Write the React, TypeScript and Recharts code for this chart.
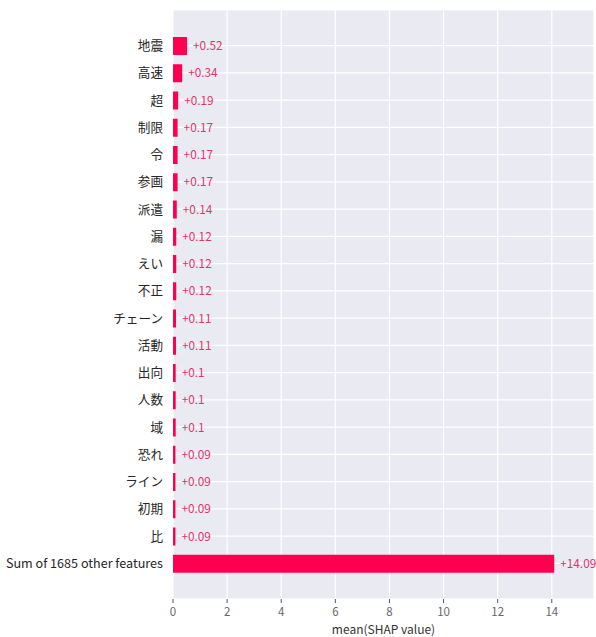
import React from "react";
import { BarChart, Bar, XAxis, YAxis, CartesianGrid, LabelList } from "recharts";

const features = [
  "地震", "高速", "超", "制限", "令", "参画", "派遣", "漏", "えい", "不正",
  "チェーン", "活動", "出向", "人数", "域", "恐れ", "ライン", "初期", "比",
  "Sum of 1685 other features",
];
const shapValues = [
  0.52, 0.34, 0.19, 0.17, 0.17, 0.17, 0.14, 0.12, 0.12, 0.12,
  0.11, 0.11, 0.1, 0.1, 0.1, 0.09, 0.09, 0.09, 0.09, 14.09,
];
const xTicks = [0, 2, 4, 6, 8, 10, 12, 14];

const data = features.map((f, i) => ({ name: f, value: shapValues[i] }));

const FONT = "'Noto Sans CJK JP', 'Noto Sans', sans-serif";
const RED = "#ff0051";

const YTick = (props: any) => {
  const { x, y, payload } = props;
  return (
    <text x={x} y={y} dy="0.36em" textAnchor="end" fill="#262626" fontSize={12.6} fontFamily={FONT}>
      {payload.value}
    </text>
  );
};

export default function App() {
  return (
    <div style={{ position: "absolute", left: 0, top: 0, width: 596, height: 637, background: "#fff" }}>
      <BarChart
        width={596}
        height={637}
        data={data}
        layout="vertical"
        margin={{ top: 10, right: 2, left: 0, bottom: 0 }}
        barCategoryGap={0}
      >
        <CartesianGrid stroke="#ffffff" strokeWidth={1.2} fill="#eaeaf2" fillOpacity={1} />
        <XAxis
          type="number"
          domain={[0, 15.56]}
          ticks={xTicks}
          allowDataOverflow
          height={38}
          axisLine={false}
          tickLine={{ stroke: "#555" }}
          tickSize={4}
          tickMargin={5}
          tick={{ fill: "#666", fontSize: 11.5, fontFamily: FONT }}
          label={{ value: "mean(SHAP value)", position: "insideBottom", offset: 3, fill: "#333", fontSize: 12, fontFamily: FONT }}
        />
        <YAxis
          type="category"
          dataKey="name"
          width={173}
          axisLine={false}
          tickLine={false}
          tickMargin={4}
          interval={0}
          padding={{ top: 22, bottom: 22 }}
          tick={<YTick />}
        />
        <Bar dataKey="value" fill={RED} barSize={18} isAnimationActive={false}>
          <LabelList
            dataKey="value"
            position="right"
            offset={6}
            formatter={(v: number) => `+${v}`}
            style={{ fill: "#e0356a", fontSize: 11.8, fontFamily: FONT }}
          />
        </Bar>
      </BarChart>
    </div>
  );
}
